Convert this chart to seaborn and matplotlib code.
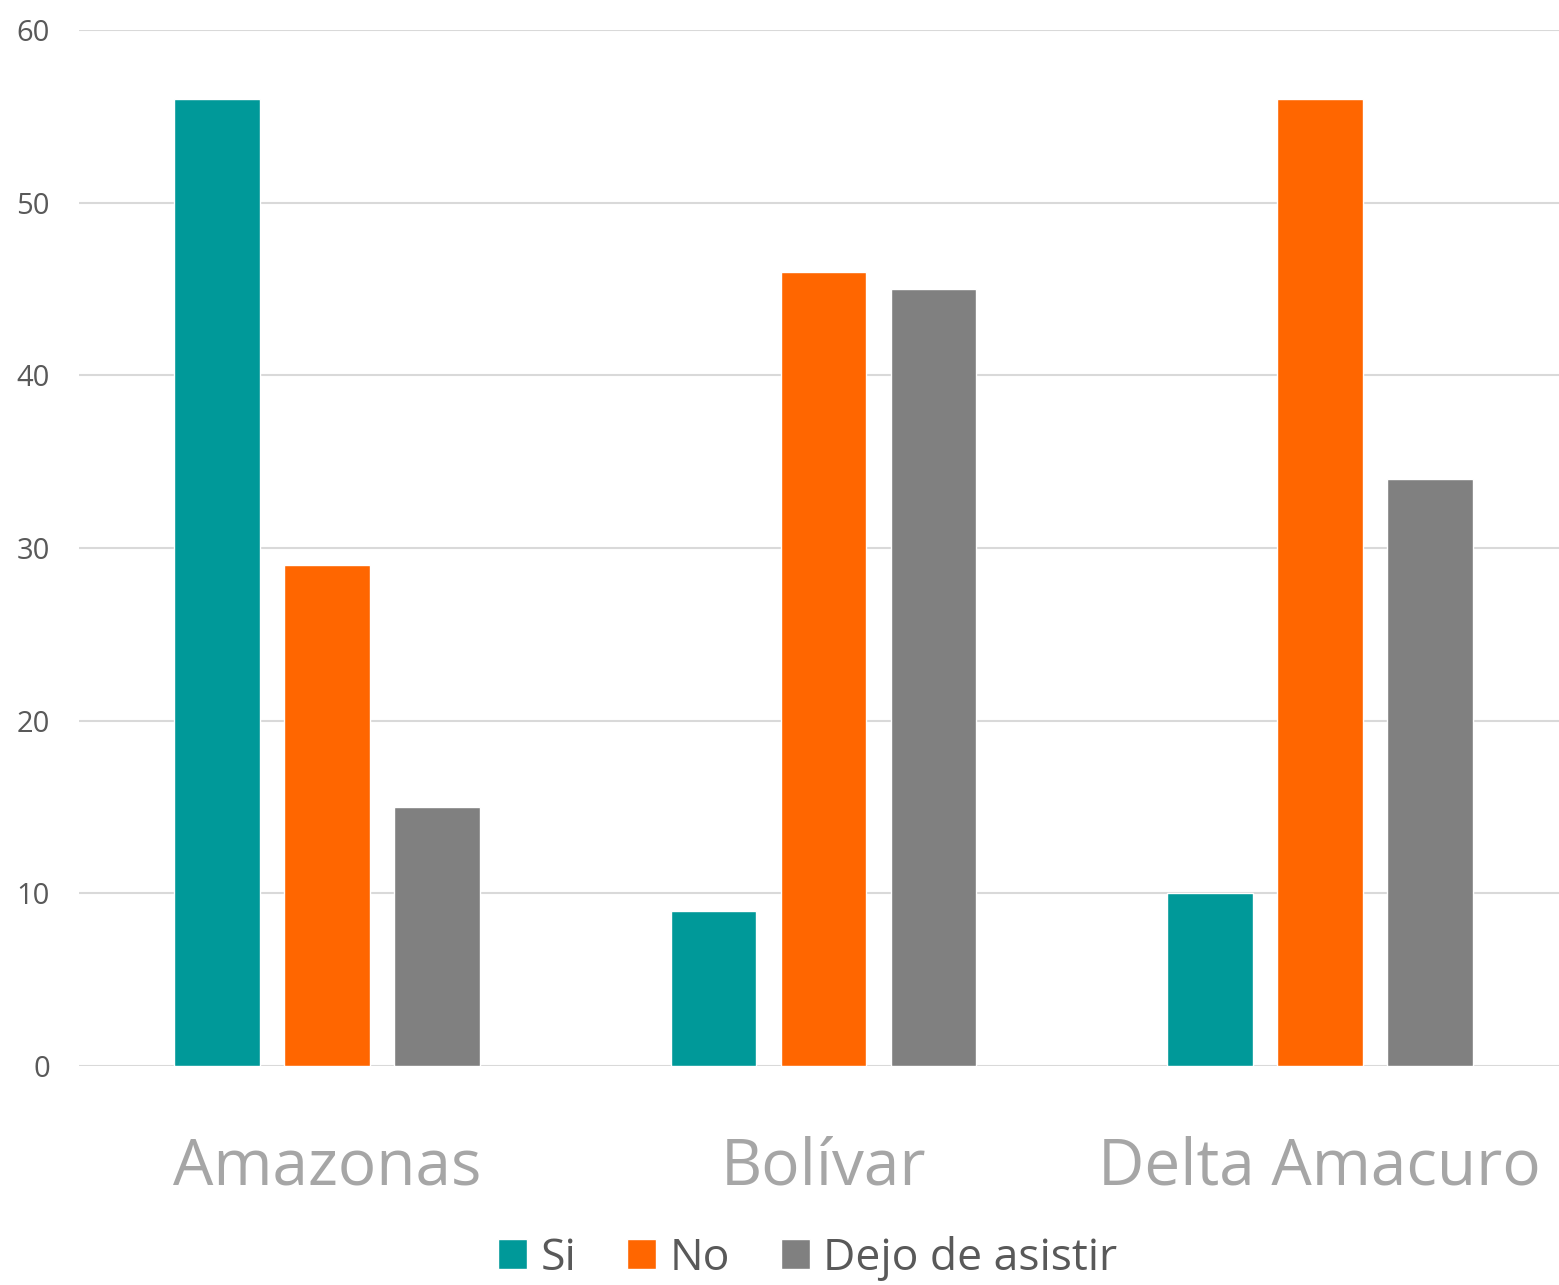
import matplotlib
matplotlib.use("Agg")
import matplotlib.pyplot as plt
import seaborn as sns
import pandas as pd

categories = ["Amazonas", "Bolívar", "Delta Amacuro"]
series = ["Si", "No", "Dejo de asistir"]
si_vals = [56, 9, 10]
no_vals = [29, 46, 56]
dejo_vals = [15, 45, 34]
yticks = [0, 10, 20, 30, 40, 50, 60]
colors = ["#009999", "#FF6600", "#808080"]

rows = []
for s, vals in zip(series, [si_vals, no_vals, dejo_vals]):
    for c, v in zip(categories, vals):
        rows.append({"cat": c, "serie": s, "val": v})
df = pd.DataFrame(rows)

sns.set_style("white")
plt.rcParams['font.family'] = ['Open Sans', 'DejaVu Sans']

fig = plt.figure(figsize=(15.59, 12.85), dpi=100)
ax = fig.add_axes([0.0507, 0.1704, 0.955, 0.8063])
sns.barplot(data=df, x="cat", y="val", hue="serie", hue_order=series,
            order=categories, palette=colors, width=0.665, gap=0.22,
            saturation=1, ax=ax, legend=True, zorder=3)
ax.set_xlim(-0.5, 2.5)
ax.set_ylim(0, 60)
ax.set_yticks(yticks)
ax.set_xlabel("")
ax.set_ylabel("")
for s in ax.spines.values():
    s.set_visible(False)
ax.grid(axis="y", color="#D9D9D9", linewidth=1.5, zorder=0)
ax.set_axisbelow(True)
ax.tick_params(axis="y", length=0, labelsize=21, labelcolor="#595959", pad=21)
ax.tick_params(axis="x", length=0, labelsize=46, labelcolor="#A6A6A6", pad=50)

handles, labels = ax.get_legend_handles_labels()
ax.legend_.remove()
fig.legend(handles, labels, loc="center", bbox_to_anchor=(0.518, 0.021),
           ncol=3, frameon=False, fontsize=32, labelcolor="#595959",
           handlelength=0.65, handleheight=0.65, handletextpad=0.3,
           columnspacing=1.15, borderpad=0.1)
fig.savefig("out.png", dpi=100)
